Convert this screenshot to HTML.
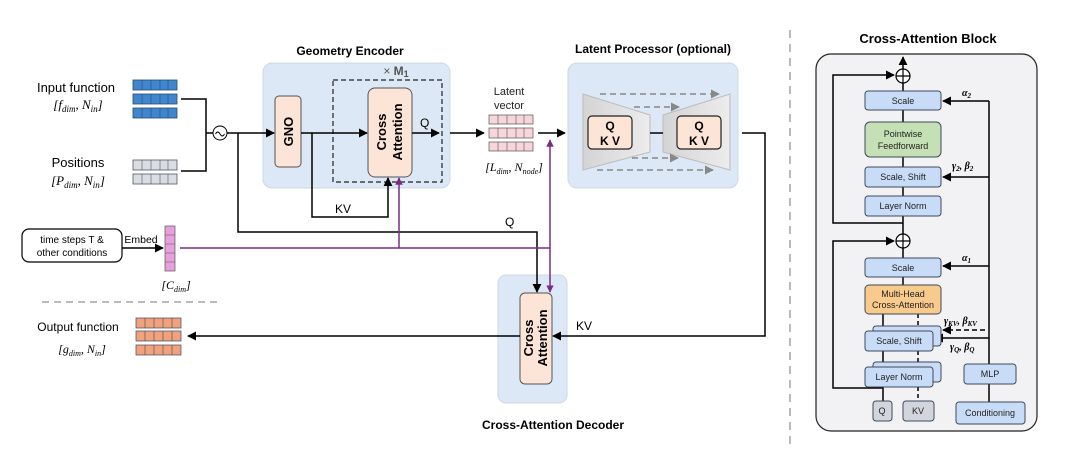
<!DOCTYPE html>
<html><head><meta charset="utf-8"><style>
html,body{margin:0;padding:0;background:#fff;}
svg{display:block;font-family:"Liberation Sans",sans-serif;}
.m{font-family:"Liberation Serif",serif;font-style:italic;}
</style></head><body>
<svg width="1080" height="471" viewBox="0 0 1080 471" xmlns="http://www.w3.org/2000/svg">
<defs>
<marker id="a" viewBox="0 0 10 10" refX="9" refY="5" markerWidth="6" markerHeight="6" orient="auto"><path d="M0,0L10,5L0,10z" fill="#000"/></marker>
<marker id="p" viewBox="0 0 10 10" refX="9" refY="5" markerWidth="5" markerHeight="6" orient="auto"><path d="M0,0L10,5L0,10z" fill="#7b2a86"/></marker>
<marker id="g" viewBox="0 0 10 10" refX="9" refY="5" markerWidth="6" markerHeight="6" orient="auto"><path d="M0,0L10,5L0,10z" fill="#888"/></marker>
<linearGradient id="tz" x1="0" x2="1"><stop offset="0" stop-color="#d4d4d4"/><stop offset="1" stop-color="#ececec"/></linearGradient>
</defs>

<!-- decoder (drawn first so arrows sit on top) -->
<rect x="498" y="275" width="69" height="128" rx="8" fill="#dce8f5" stroke="#cfd8e3"/>
<rect x="520" y="293" width="32" height="91" rx="5" fill="#fce4d6" stroke="#555"/>
<text transform="translate(533,338) rotate(-90)" font-size="13" font-weight="bold" text-anchor="middle">Cross</text>
<text transform="translate(547,338) rotate(-90)" font-size="13" font-weight="bold" text-anchor="middle">Attention</text>
<text x="553" y="429" font-size="12" font-weight="bold" text-anchor="middle">Cross-Attention Decoder</text>

<!-- Left inputs -->
<text x="76" y="92" font-size="13" text-anchor="middle">Input function</text>
<text x="78" y="109" font-size="13" text-anchor="middle" class="m">[f<tspan font-size="9" dy="3">dim</tspan><tspan dy="-3">, N</tspan><tspan font-size="9" dy="3">in</tspan><tspan dy="-3">]</tspan></text>
<text x="78" y="167" font-size="13" text-anchor="middle">Positions</text>
<text x="78" y="185" font-size="13" text-anchor="middle" class="m">[P<tspan font-size="9" dy="3">dim</tspan><tspan dy="-3">, N</tspan><tspan font-size="9" dy="3">in</tspan><tspan dy="-3">]</tspan></text>

<g stroke="#2a4a70" stroke-width="0.8" fill="#3f86cf">
<rect x="133" y="80" width="44" height="10"/><rect x="133" y="94" width="44" height="10"/><rect x="133" y="108" width="44" height="10"/>
</g>
<g stroke="#2a4a70" stroke-width="0.6">
<path d="M142 80v10M151 80v10M160 80v10M168 80v10M142 94v10M151 94v10M160 94v10M168 94v10M142 108v10M151 108v10M160 108v10M168 108v10"/>
</g>
<g stroke="#556" stroke-width="0.8" fill="#d9dde2">
<rect x="133" y="160" width="44" height="10"/><rect x="133" y="174" width="44" height="10"/>
</g>
<path d="M142 160v10M151 160v10M160 160v10M168 160v10M142 174v10M151 174v10M160 174v10M168 174v10" stroke="#556" stroke-width="0.6"/>

<path d="M181 99H206V171H181M206 133H213" stroke="#000" stroke-width="1.5" fill="none"/>
<circle cx="220" cy="133" r="7" fill="#fff" stroke="#000" stroke-width="1"/>
<path d="M215.5 134q2.2-4 4.5 0t4.5 0" stroke="#000" fill="none" stroke-width="0.9"/>

<!-- Geometry encoder -->
<rect x="263" y="63" width="187" height="125" rx="9" fill="#dce8f5" stroke="#cfd8e3"/>
<text x="350" y="55" font-size="12" font-weight="bold" text-anchor="middle">Geometry Encoder</text>
<rect x="275" y="96" width="26" height="71" rx="4" fill="#fce4d6" stroke="#555"/>
<text transform="translate(293,131.5) rotate(-90)" font-size="13" font-weight="bold" text-anchor="middle">GNO</text>
<rect x="333" y="80" width="109" height="102" fill="none" stroke="#222" stroke-dasharray="5,3" stroke-width="1.2"/>
<text x="396" y="75" font-size="12" fill="#555" text-anchor="middle">× <tspan font-weight="bold">M</tspan><tspan font-size="9" dy="2" font-weight="bold">1</tspan></text>
<rect x="368" y="88" width="44" height="89" rx="7" fill="#fce4d6" stroke="#555"/>
<text transform="translate(386,132) rotate(-90)" font-size="13" font-weight="bold" text-anchor="middle">Cross</text>
<text transform="translate(402,132) rotate(-90)" font-size="13" font-weight="bold" text-anchor="middle">Attention</text>

<g stroke="#000" stroke-width="1.5" fill="none">
<path d="M227 133H274" marker-end="url(#a)"/>
<path d="M301 133H367" marker-end="url(#a)"/>
<path d="M312 133V217H388V178" marker-end="url(#a)"/>
<path d="M412 133H439" marker-end="url(#a)"/>
<path d="M450 133H484" marker-end="url(#a)"/>
<path d="M538 133H565" marker-end="url(#a)"/>
<path d="M238 133V232H537V292" marker-end="url(#a)"/>
<path d="M742 133H765V336H553" marker-end="url(#a)"/>
<path d="M520 336H188" marker-end="url(#a)"/>
<path d="M122 248H163" marker-end="url(#a)"/>
</g>
<text x="335" y="213" font-size="12">KV</text>
<text x="420" y="127" font-size="12">Q</text>
<text x="505" y="226" font-size="12">Q</text>
<text x="576" y="330" font-size="12">KV</text>

<!-- latent -->
<text x="509" y="95" font-size="11" fill="#222" text-anchor="middle">Latent</text>
<text x="509" y="109" font-size="11" fill="#222" text-anchor="middle">vector</text>
<g stroke="#555" stroke-width="0.7" fill="#f7d5da">
<rect x="489" y="115" width="44" height="9"/><rect x="489" y="128" width="44" height="10"/><rect x="489" y="142" width="44" height="9"/>
</g>
<path d="M498 115v9M507 115v9M516 115v9M524 115v9M498 128v10M507 128v10M516 128v10M524 128v10M498 142v9M507 142v9M516 142v9M524 142v9" stroke="#555" stroke-width="0.6"/>
<text x="514" y="171" font-size="12" text-anchor="middle" class="m">[L<tspan font-size="8" dy="3">dim</tspan><tspan dy="-3">,  N</tspan><tspan font-size="8" dy="3">node</tspan><tspan dy="-3">]</tspan></text>

<!-- latent processor -->
<rect x="568" y="63" width="170" height="125" rx="9" fill="#dce8f5" stroke="#cfd8e3"/>
<text x="653" y="53" font-size="12" font-weight="bold" text-anchor="middle">Latent Processor (optional)</text>
<polygon points="583,94 650,115 650,152 583,170" fill="url(#tz)" stroke="#bbb"/>
<polygon points="663,115 730,94 730,170 663,152" fill="url(#tz)" stroke="#bbb"/>
<path d="M650 133H663" stroke="#000" stroke-width="1.5"/>
<rect x="588" y="116" width="44" height="33" rx="4" fill="#fce4d6" stroke="#222" stroke-width="1.2"/>
<rect x="677" y="116" width="44" height="33" rx="4" fill="#fce4d6" stroke="#222" stroke-width="1.2"/>
<text x="610" y="130" font-size="12" font-weight="bold" text-anchor="middle">Q</text>
<text x="610" y="145" font-size="12" font-weight="bold" text-anchor="middle">K V</text>
<text x="699" y="130" font-size="12" font-weight="bold" text-anchor="middle">Q</text>
<text x="699" y="145" font-size="12" font-weight="bold" text-anchor="middle">K V</text>
<g stroke="#888" stroke-width="1.5" stroke-dasharray="6,4" fill="none">
<path d="M600 94H719" marker-end="url(#g)"/>
<path d="M634 107H679" marker-end="url(#g)"/>
<path d="M632 158H678" marker-end="url(#g)"/>
<path d="M597 170H713" marker-end="url(#g)"/>
</g>

<!-- embed -->
<rect x="22" y="229" width="100" height="33" rx="7" fill="#fff" stroke="#000" stroke-width="1.2"/>
<text x="72" y="243" font-size="10" text-anchor="middle">time steps  T &amp;</text>
<text x="72" y="256" font-size="10" text-anchor="middle">other conditions</text>
<text x="141" y="243" font-size="10.5" text-anchor="middle">Embed</text>
<rect x="165" y="226" width="10" height="45" fill="#e8a0dc" stroke="#555" stroke-width="0.7"/>
<path d="M165 235h10M165 244h10M165 253h10M165 262h10" stroke="#555" stroke-width="0.6"/>
<text x="176" y="289" font-size="12" text-anchor="middle" class="m">[C<tspan font-size="8" dy="3">dim</tspan><tspan dy="-3">]</tspan></text>
<g stroke="#7b2a86" stroke-width="1.5" fill="none">
<path d="M180 248H550"/>
<path d="M399 248V178" marker-end="url(#p)"/>
<path d="M550 248V140" marker-end="url(#p)"/>
<path d="M550 248V292" marker-end="url(#p)"/>
</g>
<path d="M42 302H218" stroke="#bbb" stroke-width="2" stroke-dasharray="7,5"/>

<!-- output -->
<text x="78" y="331" font-size="12" text-anchor="middle">Output function</text>
<text x="82" y="353" font-size="12" text-anchor="middle" class="m">[g<tspan font-size="8" dy="3">dim</tspan><tspan dy="-3">, N</tspan><tspan font-size="8" dy="3">in</tspan><tspan dy="-3">]</tspan></text>
<g stroke="#3f4a5a" stroke-width="0.7" fill="#f1a27c">
<rect x="136" y="318" width="45" height="10"/><rect x="136" y="331" width="45" height="10"/><rect x="136" y="345" width="45" height="10"/>
</g>
<path d="M145 318v10M154 318v10M163 318v10M172 318v10M145 331v10M154 331v10M163 331v10M172 331v10M145 345v10M154 345v10M163 345v10M172 345v10" stroke="#3f4a5a" stroke-width="0.6"/>

<!-- separator -->
<path d="M790 30V450" stroke="#bbb" stroke-width="2" stroke-dasharray="8,6"/>

<!-- Cross-attention block -->
<text x="928" y="43" font-size="13" font-weight="bold" text-anchor="middle">Cross-Attention Block</text>
<rect x="816" y="54" width="221" height="377" rx="15" fill="#f2f2f4" stroke="#222" stroke-width="1.2"/>
<g stroke="#000" stroke-width="1.5" fill="none">
<path d="M903 69V57" marker-end="url(#a)"/>
<path d="M903 83V91M903 110V122M903 157V167M903 187V196M903 216V234M903 248V258M903 277V285"/>
<path d="M903 223H833V75H894" marker-end="url(#a)"/>
<path d="M883 388H833V241H894" marker-end="url(#a)"/>
<path d="M883 314V331M883 351V367M883 387V401"/>
<path d="M918 314V331M918 351V367M918 387V401" stroke-dasharray="4,3"/>
<path d="M989 101V364M989 384V402"/>
<path d="M989 101H943" marker-end="url(#a)"/>
<path d="M989 177H943" marker-end="url(#a)"/>
<path d="M989 266H943" marker-end="url(#a)"/>
<path d="M989 338H935" marker-end="url(#a)"/>
<path d="M985 330H943" stroke-dasharray="5,3" marker-end="url(#a)"/>
</g>
<circle cx="903" cy="76" r="7" fill="#fff" stroke="#000" stroke-width="1.2"/>
<path d="M896 76h14M903 69v14" stroke="#000" stroke-width="1.2"/>
<circle cx="903" cy="241" r="7" fill="#fff" stroke="#000" stroke-width="1.2"/>
<path d="M896 241h14M903 234v14" stroke="#000" stroke-width="1.2"/>

<g stroke="#3c4a5c" stroke-width="1" font-size="9">
<rect x="865" y="91" width="76" height="19" rx="3" fill="#c9dcf7"/>
<rect x="865" y="122" width="76" height="35" rx="5" fill="#c5e0b4"/>
<rect x="865" y="167" width="76" height="20" rx="3" fill="#c9dcf7"/>
<rect x="865" y="196" width="76" height="20" rx="3" fill="#c9dcf7"/>
<rect x="865" y="258" width="76" height="19" rx="3" fill="#c9dcf7"/>
<rect x="865" y="285" width="76" height="29" rx="4" fill="#f8cb8d"/>
<rect x="873" y="326" width="68" height="20" rx="3" fill="#c9dcf7"/>
<rect x="865" y="331" width="68" height="20" rx="3" fill="#c9dcf7"/>
<rect x="873" y="362" width="68" height="20" rx="3" fill="#c9dcf7"/>
<rect x="865" y="367" width="68" height="20" rx="3" fill="#c9dcf7"/>
<rect x="873" y="401" width="19" height="20" rx="3" fill="#d2d5dc"/>
<rect x="903" y="401" width="31" height="20" rx="3" fill="#d2d5dc"/>
<rect x="964" y="364" width="52" height="20" rx="3" fill="#c9dcf7"/>
<rect x="956" y="402" width="69" height="22" rx="3" fill="#c9dcf7"/>
</g>
<g font-size="9" text-anchor="middle" fill="#222">
<text x="903" y="104">Scale</text>
<text x="903" y="137">Pointwise</text>
<text x="903" y="149">Feedforward</text>
<text x="903" y="180">Scale, Shift</text>
<text x="903" y="209">Layer Norm</text>
<text x="903" y="271">Scale</text>
<text x="903" y="297">Multi-Head</text>
<text x="903" y="308">Cross-Attention</text>
<text x="899" y="344">Scale, Shift</text>
<text x="899" y="380">Layer Norm</text>
<text x="882" y="414">Q</text>
<text x="918" y="414">KV</text>
<text x="990" y="377">MLP</text>
<text x="990" y="416">Conditioning</text>
</g>
<g font-size="10" font-weight="bold" class="m" font-family="Liberation Serif,serif">
<text x="962" y="96">α<tspan font-size="7" dy="2">2</tspan></text>
<text x="952" y="169">γ<tspan font-size="7" dy="2">2</tspan><tspan dy="-2">, β</tspan><tspan font-size="7" dy="2">2</tspan></text>
<text x="962" y="261">α<tspan font-size="7" dy="2">1</tspan></text>
<text x="944" y="324">γ<tspan font-size="7" dy="2">KV</tspan><tspan dy="-2">, β</tspan><tspan font-size="7" dy="2">KV</tspan></text>
<text x="950" y="350">γ<tspan font-size="7" dy="2">Q</tspan><tspan dy="-2">, β</tspan><tspan font-size="7" dy="2">Q</tspan></text>
</g>
</svg>
</body></html>
